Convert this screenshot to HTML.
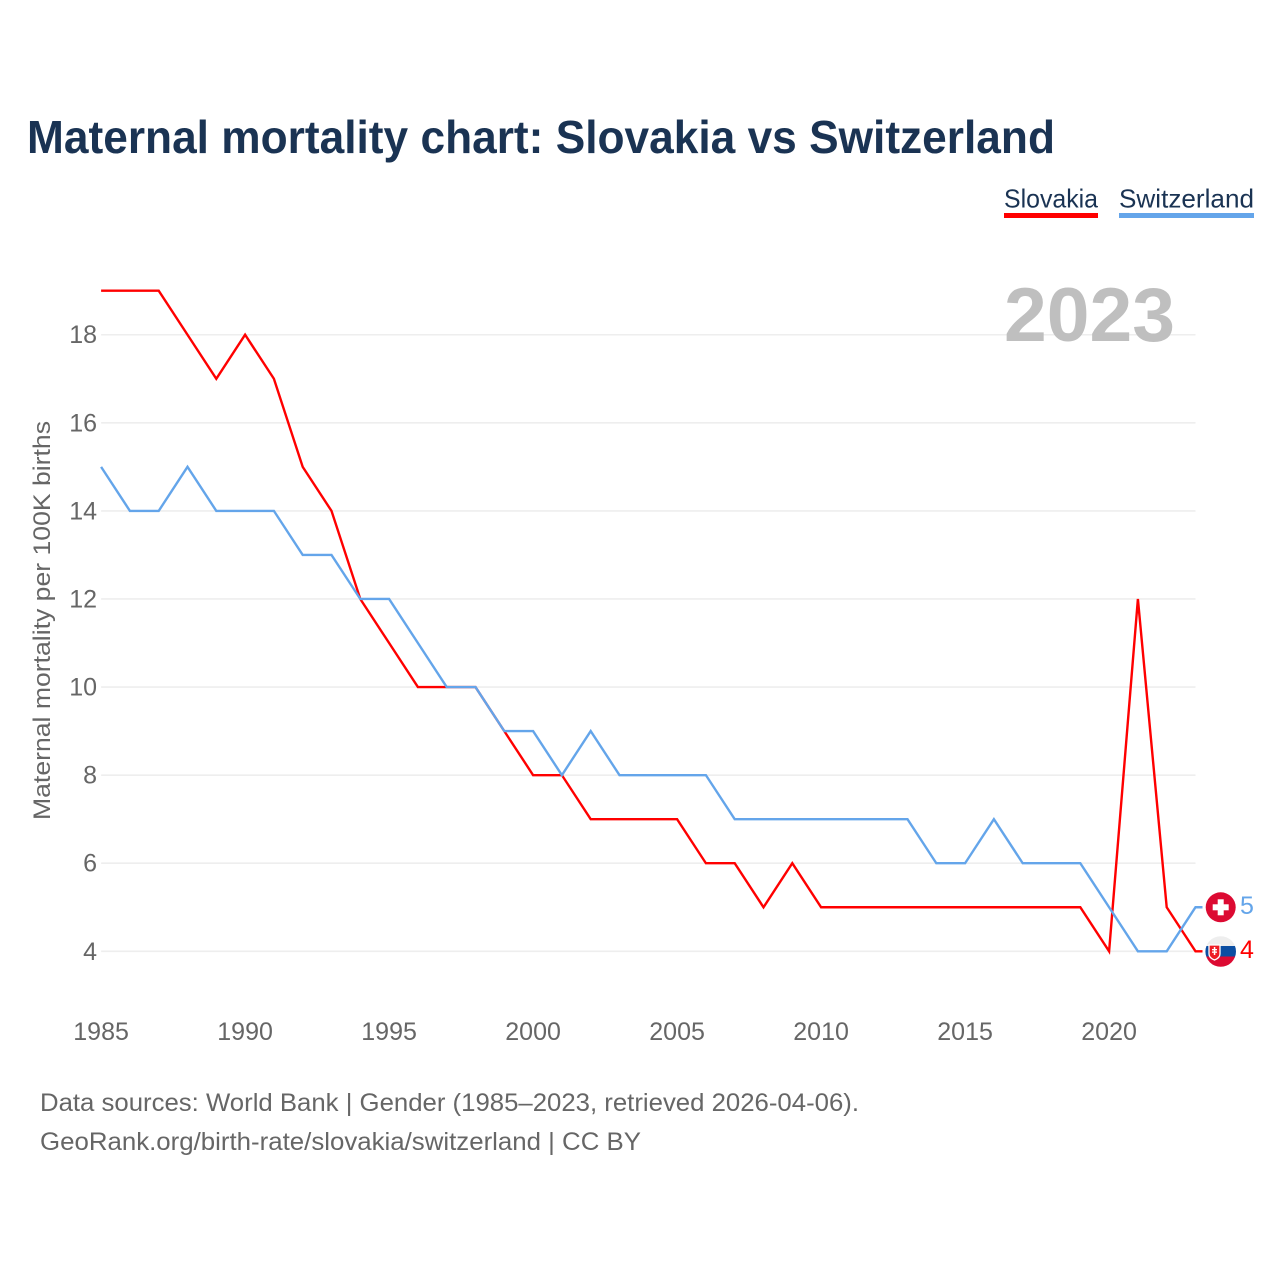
<!DOCTYPE html>
<html lang="en">
<head>
<meta charset="utf-8">
<title>Maternal mortality chart: Slovakia vs Switzerland</title>
<style>
html,body{margin:0;padding:0;background:#fff;width:1280px;height:1280px;overflow:hidden}
svg{display:block}
text{font-family:"Liberation Sans",sans-serif}
</style>
</head>
<body>
<svg id="chart" width="1280" height="1280" viewBox="0 0 1280 1280" xmlns="http://www.w3.org/2000/svg">
  <defs>
    <clipPath id="clip-ch"><circle cx="1220.7" cy="907.3" r="15"/></clipPath>
    <clipPath id="clip-sk"><circle cx="1220.7" cy="951.5" r="15.3"/></clipPath>
  </defs>
  <text x="27" y="153" font-size="46" font-weight="bold" fill="#1a3353" textLength="1028" lengthAdjust="spacingAndGlyphs">Maternal mortality chart: Slovakia vs Switzerland</text>

  <g>
    <g>
      <text x="1004" y="207.500" font-size="26" fill="#1a3353" textLength="94" lengthAdjust="spacingAndGlyphs">Slovakia</text>
      <rect x="1004" y="213" width="94" height="5" fill="#ff0000"/>
    </g>
    <g>
      <text x="1119" y="207.500" font-size="26" fill="#1a3353" textLength="135" lengthAdjust="spacingAndGlyphs">Switzerland</text>
      <rect x="1119" y="213" width="135" height="5" fill="#64a5ea"/>
    </g>
  </g>

  <g id="grid"></g>
  <g id="y-ticks"></g>
  <g id="x-ticks"></g>

  <text transform="translate(50,820) rotate(-90)" font-size="24.5" fill="#666666" textLength="399" lengthAdjust="spacingAndGlyphs">Maternal mortality per 100K births</text>

  <text id="year-label" x="1004" y="341" font-size="76" font-weight="bold" fill="#bfbfbf" textLength="171" lengthAdjust="spacingAndGlyphs">2023</text>

  <g id="series"></g>

  <g>
    <g clip-path="url(#clip-ch)">
      <rect x="1205" y="892" width="32" height="31" fill="#dc0a32"/>
      <rect x="1212.7" y="904.3" width="16" height="6" fill="#ffffff"/>
      <rect x="1217.7" y="899.3" width="6" height="16" fill="#ffffff"/>
    </g>
  </g>
  <g>
    <g clip-path="url(#clip-sk)">
      <rect x="1205" y="936" width="32" height="11" fill="#eeeeee"/>
      <rect x="1205" y="946" width="32" height="10.5" fill="#0b4ea2"/>
      <rect x="1205" y="956.5" width="32" height="11" fill="#dc0a32"/>
      <path d="M1209 945h11v9c0 3-3 5-5.500 6-2.500-1-5.500-3-5.500-6z" fill="#ee1c25" stroke="#ffffff" stroke-width="1.300"/>
      <rect x="1213.800" y="947" width="1.500" height="8" fill="#ffffff"/>
      <rect x="1212" y="949" width="5" height="1.300" fill="#ffffff"/>
      <rect x="1212" y="951.500" width="5" height="1.300" fill="#ffffff"/>
    </g>
  </g>

  <text id="value-ch" x="1240" y="914" font-size="25" fill="#64a5ea"></text>
  <text id="value-sk" x="1240" y="958" font-size="25" fill="#ff0000"></text>

  <text x="40" y="1111" font-size="25" fill="#666666" textLength="819" lengthAdjust="spacingAndGlyphs">Data sources: World Bank | Gender (1985–2023, retrieved 2026-04-06).</text>
  <text x="40" y="1150" font-size="25" fill="#666666" textLength="601" lengthAdjust="spacingAndGlyphs">GeoRank.org/birth-rate/slovakia/switzerland | CC BY</text>
</svg>
<script>
const years = [1985,1986,1987,1988,1989,1990,1991,1992,1993,1994,1995,1996,1997,1998,1999,2000,2001,2002,2003,2004,2005,2006,2007,2008,2009,2010,2011,2012,2013,2014,2015,2016,2017,2018,2019,2020,2021,2022,2023];
const slovakia = [19,19,19,18,17,18,17,15,14,12,11,10,10,10,9,8,8,7,7,7,7,6,6,5,6,5,5,5,5,5,5,5,5,5,5,4,12,5,4];
const switzerland = [15,14,14,15,14,14,14,13,13,12,12,11,10,10,9,9,8,9,8,8,8,8,7,7,7,7,7,7,7,6,6,7,6,6,6,5,4,4,5];
const yTickValues = [4,6,8,10,12,14,16,18];
const xTickValues = [1985,1990,1995,2000,2005,2010,2015,2020];

const NS = 'http://www.w3.org/2000/svg';
function xScale(year) { return 101.1 + (year - 1985) * 28.8; }
function yScale(value) { return 951.3 - (value - 4) * 44.04; }

const gridGroup = document.getElementById('grid');
const yTickGroup = document.getElementById('y-ticks');
const xTickGroup = document.getElementById('x-ticks');
const seriesGroup = document.getElementById('series');

yTickValues.forEach(function (v) {
  const line = document.createElementNS(NS, 'line');
  line.setAttribute('x1', xScale(1985));
  line.setAttribute('x2', xScale(2023));
  line.setAttribute('y1', yScale(v));
  line.setAttribute('y2', yScale(v));
  line.setAttribute('stroke', '#eeeeee');
  line.setAttribute('stroke-width', '1.6');
  
  
  gridGroup.appendChild(line);

  const label = document.createElementNS(NS, 'text');
  label.setAttribute('x', 97);
  label.setAttribute('y', yScale(v) + 8.5);
  label.setAttribute('text-anchor', 'end');
  label.setAttribute('font-size', '25');
  label.setAttribute('fill', '#666666');
  
  
  label.textContent = v;
  yTickGroup.appendChild(label);
});

xTickValues.forEach(function (y) {
  const label = document.createElementNS(NS, 'text');
  label.setAttribute('x', xScale(y));
  label.setAttribute('y', 1040);
  label.setAttribute('text-anchor', 'middle');
  label.setAttribute('font-size', '25');
  label.setAttribute('fill', '#666666');
  
  
  label.textContent = y;
  xTickGroup.appendChild(label);
});

function linePoints(values) {
  const pts = values.map(function (v, i) { return xScale(years[i]).toFixed(2) + ',' + yScale(v).toFixed(2); });
  const last = values.length - 1;
  pts.push((xScale(years[last]) + 7).toFixed(2) + ',' + yScale(values[last]).toFixed(2));
  return pts.join(' ');
}

const slovakiaLine = document.createElementNS(NS, 'polyline');
slovakiaLine.setAttribute('points', linePoints(slovakia));
slovakiaLine.setAttribute('fill', 'none');
slovakiaLine.setAttribute('stroke', '#ff0000');
slovakiaLine.setAttribute('stroke-width', '2.4');


seriesGroup.appendChild(slovakiaLine);

const switzerlandLine = document.createElementNS(NS, 'polyline');
switzerlandLine.setAttribute('points', linePoints(switzerland));
switzerlandLine.setAttribute('fill', 'none');
switzerlandLine.setAttribute('stroke', '#64a5ea');
switzerlandLine.setAttribute('stroke-width', '2.4');


seriesGroup.appendChild(switzerlandLine);

document.getElementById('value-ch').textContent = switzerland[switzerland.length - 1];
document.getElementById('value-sk').textContent = slovakia[slovakia.length - 1];
</script>
</body>
</html>
